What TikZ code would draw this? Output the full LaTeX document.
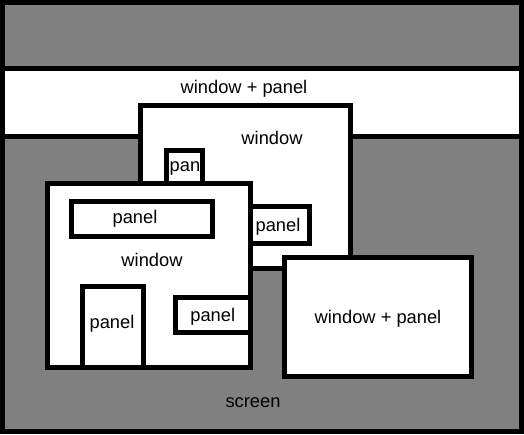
\documentclass[tikz,border=0pt]{standalone}
\usepackage{fontspec}
\setmainfont{Liberation Sans}
\usepackage{tikz}
\definecolor{screengray}{RGB}{128,128,128}
\tikzstyle{screenbox} = [rectangle, draw=black, line width=5pt, fill=screengray, inner sep=0pt]
\tikzstyle{winbox} = [rectangle, draw=black, line width=5pt, fill=white, inner sep=0pt, text depth=0pt]
\tikzstyle{panelbox} = [rectangle, draw=black, line width=5pt, fill=white, inner sep=0pt, text centered, text depth=0pt]
\tikzstyle{caption} = [inner sep=0pt, text centered]

\begin{document}
\begin{tikzpicture}[x=1pt, y=-1pt, font=\fontsize{18.3}{20}\selectfont]
\useasboundingbox (0,0) rectangle (524,434);
% screen and the bar across it
\node (screen) [screenbox, minimum width=519pt, minimum height=429pt] at (262,217) {};
\node (screentxt) [caption] at (253,403) {screen};
\node (bar) [winbox, minimum width=519pt, minimum height=68pt] at (262,102.5) {};
\node (bartxt) [caption] at (244,89) {window + panel};
% back window
\node (winback) [winbox, minimum width=210pt, minimum height=163pt] at (245.5,187) {};
\node (winbacktxt) [caption] at (272,138) {window};
\node (pan) [panelbox, minimum width=36pt, minimum height=49pt] at (184,175) {};
\node (pantxt) [caption] at (185,168) {pan};
\node (panelback) [panelbox, minimum width=63pt, minimum height=36.5pt] at (278,224.75) {panel};
% front window
\node (winfront) [winbox, minimum width=203pt, minimum height=184pt] at (149,275.5) {};
\node (winfronttxt) [caption] at (152,260) {window};
\node (paneltop) [panelbox, minimum width=141pt, minimum height=35pt] at (142,219.3) {};
\node (paneltoptxt) [caption] at (135,219) {panel};
\node (paneltall) [panelbox, minimum width=61pt, minimum height=81pt] at (113,327) {};
\node (paneltalltxt) [caption] at (112,324) {panel};
\node (panelright) [panelbox, minimum width=75.5pt, minimum height=35pt] at (212.75,315) {panel};
% lone window
\node (winlone) [winbox, minimum width=187pt, minimum height=119pt] at (378,317) {window + panel};
\end{tikzpicture}
\end{document}
